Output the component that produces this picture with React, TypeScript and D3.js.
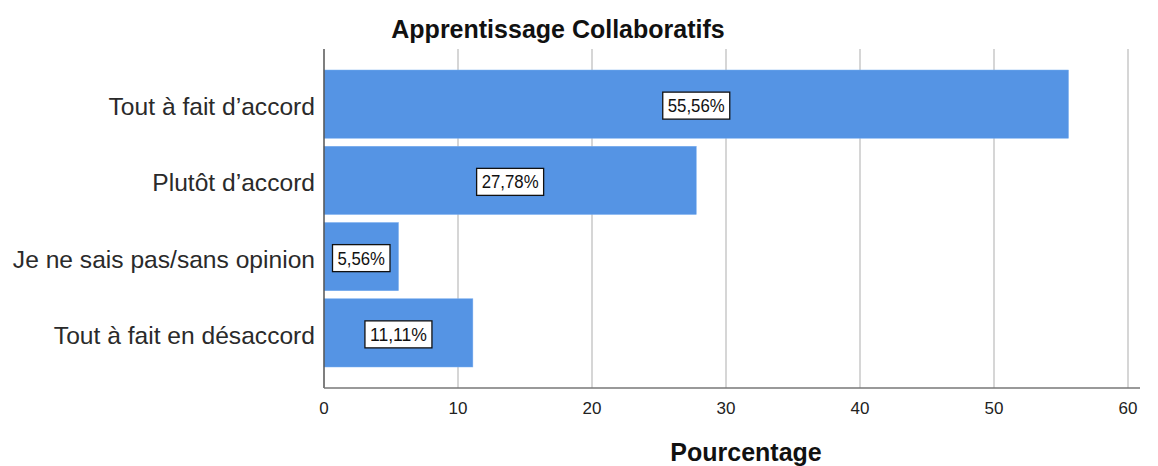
import React from "react";
import * as d3 from "d3";

const categories = ["Tout à fait d’accord", "Plutôt d’accord", "Je ne sais pas/sans opinion", "Tout à fait en désaccord"];
const values = [55.56, 27.78, 5.56, 11.11];
const labels = ["55,56%", "27,78%", "5,56%", "11,11%"];
const ticks = [0, 10, 20, 30, 40, 50, 60];

export default function App() {
  const W = 1158, H = 466;
  const x = d3.scaleLinear().domain([0, 60]).range([324, 1128]);
  const y = d3.scaleBand<string>().domain(categories).range([66, 371]).paddingInner(0.105).paddingOuter(0.0525);
  const top = 49, bottom = 388;
  const font = "Arial, 'Liberation Sans', sans-serif";
  return (
    <svg width={W} height={H} style={{ position: "absolute", left: 0, top: 0, background: "#fff" }} fontFamily={font}>
      <text x={558} y={38} textAnchor="middle" fontSize={25} fontWeight="bold" fill="#111">Apprentissage Collaboratifs</text>
      {ticks.filter(t => t > 0).map(t => (
        <line key={t} x1={x(t)} x2={x(t)} y1={top} y2={bottom} stroke="#c8c8c8" strokeWidth={1.5} />
      ))}
      {categories.map((c, i) => {
        const by = y(c)!;
        const bh = y.bandwidth();
        const cx = (x(0) + x(values[i])) / 2;
        const cy = by + bh / 2;
        const textW = labels[i].length * 9.5;
        const tw = textW + 10;
        return (
          <g key={c}>
            <rect x={x(0)} y={by} width={x(values[i]) - x(0)} height={bh} fill="#5594e4" stroke="#7aaef0" strokeWidth={0.5} />
            <rect x={cx - tw / 2} y={cy - 12} width={tw} height={27} fill="#fff" stroke="#111" strokeWidth={1.3} />
            <text x={cx} y={cy + 8} textAnchor="middle" fontSize={18} fill="#111" textLength={textW} lengthAdjust="spacingAndGlyphs">{labels[i]}</text>
            <text x={315} y={cy + 11} textAnchor="end" fontSize={24.6} fill="#2a2a2a">{c}</text>
          </g>
        );
      })}
      <line x1={324} x2={324} y1={top} y2={bottom} stroke="#555" strokeWidth={1.5} />
      <line x1={324} x2={1140} y1={bottom} y2={bottom} stroke="#777" strokeWidth={1.5} />
      {ticks.map(t => (
        <text key={t} x={x(t)} y={414} textAnchor="middle" fontSize={17} fill="#222">{t}</text>
      ))}
      <text x={746} y={461} textAnchor="middle" fontSize={25} fontWeight="bold" fill="#111">Pourcentage</text>
    </svg>
  );
}
